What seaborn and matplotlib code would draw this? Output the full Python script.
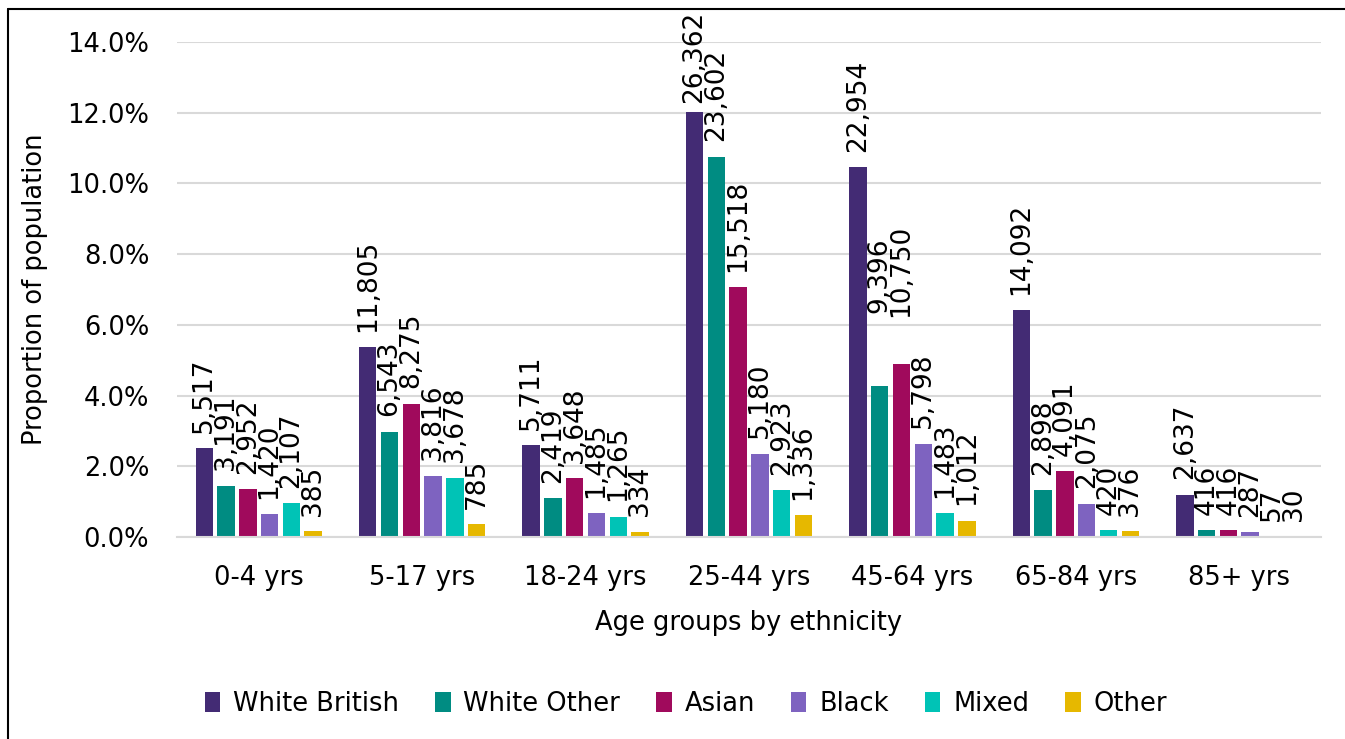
import matplotlib
matplotlib.use("Agg")
import matplotlib.pyplot as plt
from matplotlib.lines import Line2D
from matplotlib.ticker import PercentFormatter
import seaborn as sns
import pandas as pd

ages = ["0-4 yrs", "5-17 yrs", "18-24 yrs", "25-44 yrs", "45-64 yrs", "65-84 yrs", "85+ yrs"]
ethnicities = ["White British", "White Other", "Asian", "Black", "Mixed", "Other"]
colors = ["#432B74", "#008C82", "#A00A5C", "#7E63C0", "#00C3B6", "#E6B800"]

# proportion of population (bar heights)
white_british = [0.02514, 0.05379, 0.02602, 0.12013, 0.10460, 0.06422, 0.01202]
white_other = [0.01454, 0.02982, 0.01102, 0.10755, 0.04282, 0.01321, 0.00190]
asian = [0.01345, 0.03771, 0.01662, 0.07071, 0.04899, 0.01864, 0.00190]
black = [0.00647, 0.01739, 0.00677, 0.02360, 0.02642, 0.00946, 0.00131]
mixed = [0.00960, 0.01676, 0.00576, 0.01332, 0.00676, 0.00191, 0.00026]
other = [0.00175, 0.00358, 0.00152, 0.00609, 0.00461, 0.00171, 0.00014]

# counts shown as bar labels
n_white_british = [5517, 11805, 5711, 26362, 22954, 14092, 2637]
n_white_other = [3191, 6543, 2419, 23602, 9396, 2898, 416]
n_asian = [2952, 8275, 3648, 15518, 10750, 4091, 416]
n_black = [1420, 3816, 1485, 5180, 5798, 2075, 287]
n_mixed = [2107, 3678, 1265, 2923, 1483, 420, 57]
n_other = [385, 785, 334, 1336, 1012, 376, 30]

props = [white_british, white_other, asian, black, mixed, other]
counts = [n_white_british, n_white_other, n_asian, n_black, n_mixed, n_other]

rows = []
for e, vals in zip(ethnicities, props):
    for a, v in zip(ages, vals):
        rows.append({"age": a, "eth": e, "prop": v})
df = pd.DataFrame(rows)

sns.set_style("white")
plt.rcParams["font.family"] = ["DejaVu Sans"]
plt.rcParams["text.color"] = "black"
plt.rcParams["axes.labelcolor"] = "black"
plt.rcParams["xtick.color"] = "black"
plt.rcParams["ytick.color"] = "black"
FS = 18.5

fig = plt.figure(figsize=(13.45, 7.39), dpi=100)
ax = fig.add_axes([177 / 1345, 1 - 537 / 739, (1321 - 177) / 1345, (537 - 42) / 739])

sns.barplot(data=df, x="age", y="prop", hue="eth", order=ages, hue_order=ethnicities,
            palette=colors, saturation=1, width=0.8, gap=0.2, linewidth=0, ax=ax)

ax.set_ylim(0, 0.14)
ax.set_xlim(-0.5, 6.5)
ax.set_yticks([i * 0.02 for i in range(8)])
ax.yaxis.set_major_formatter(PercentFormatter(1.0, decimals=1))
ax.grid(axis="y", color="#D9D9D9", linewidth=1.5)
ax.set_axisbelow(True)
for s in ["top", "right", "left"]:
    ax.spines[s].set_visible(False)
ax.spines["bottom"].set_color("#D9D9D9")
ax.spines["bottom"].set_linewidth(1.5)
ax.tick_params(axis="both", length=0, labelsize=FS)
ax.tick_params(axis="x", pad=20)
ax.tick_params(axis="y", pad=20)
ax.set_ylabel("Proportion of population", fontsize=FS, labelpad=14)
ax.set_xlabel("Age groups by ethnicity", fontsize=FS, labelpad=14)

# a few labels sit away from their bar top in the original chart
label_anchor = {(0, 3): 0.1185, (1, 4): 0.0590, (2, 4): 0.0580}
for i, cont in enumerate(ax.containers):
    for j, bar in enumerate(cont.patches):
        y = label_anchor.get((i, j), bar.get_height())
        ax.annotate(f"{counts[i][j]:,}", xy=(bar.get_x() + bar.get_width() / 2, y),
                    xytext=(0, 11), textcoords="offset points", rotation=90,
                    ha="center", va="bottom", fontsize=19, annotation_clip=False)

sns.move_legend(ax, "center", bbox_to_anchor=(0.51, 1 - 704 / 739), bbox_transform=fig.transFigure,
                ncol=6, frameon=False, title=None, fontsize=FS, handlelength=0.6,
                handleheight=0.8, handletextpad=0.5, columnspacing=1.4)

fig.add_artist(Line2D([8 / 1345, 8 / 1345], [0, 1 - 9 / 739], color="black", linewidth=1.5,
                      transform=fig.transFigure))
fig.add_artist(Line2D([8 / 1345, 1], [1 - 9 / 739, 1 - 9 / 739], color="black", linewidth=1.5,
                      transform=fig.transFigure))

fig.savefig("out.png", dpi=100)
